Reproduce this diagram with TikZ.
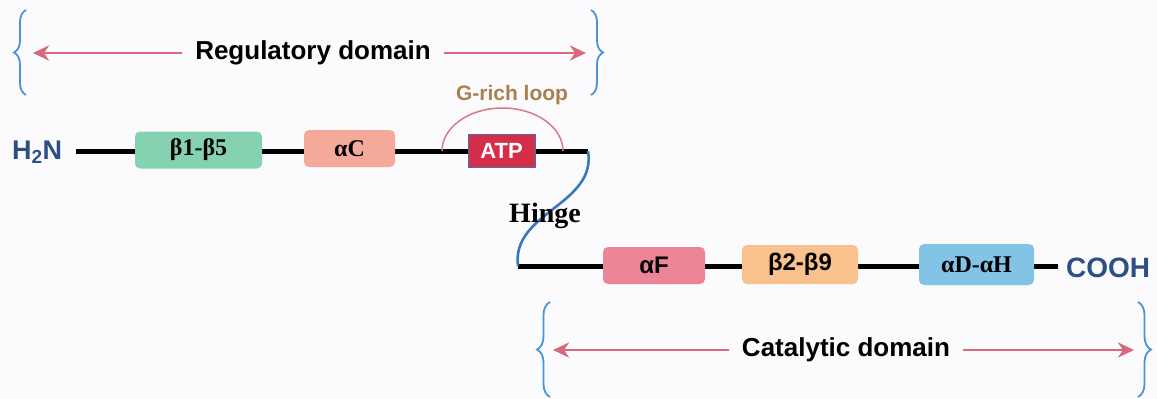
\documentclass[tikz,border=0pt]{standalone}
\usepackage{fontspec}
\setmainfont{Liberation Serif}
\setsansfont{Liberation Sans}
\usetikzlibrary{arrows.meta,decorations.pathreplacing}
\definecolor{paper}{HTML}{FBFBFD}
\definecolor{termblue}{HTML}{2E4F86}
\definecolor{rose}{HTML}{D9687C}
\definecolor{braceblue}{HTML}{4D94D6}
\definecolor{gold}{HTML}{A98050}
\definecolor{looppink}{HTML}{D9798A}
\definecolor{mint}{HTML}{85D2B1}
\definecolor{salmon}{HTML}{F5A99B}
\definecolor{atpred}{HTML}{D42E48}
\definecolor{atpedge}{HTML}{4F6AAE}
\definecolor{pinkf}{HTML}{EC8597}
\definecolor{peach}{HTML}{F8C18D}
\definecolor{sky}{HTML}{82C3E6}
\definecolor{hingeblue}{HTML}{3A78BE}

\tikzset{
  dombox/.style={rounded corners=5pt,fill=#1,inner sep=0pt,text=black},
  chain/.style={line width=5pt,black},
  domarrow/.style={line width=2.8pt,rose,-{Stealth[length=16pt,width=15pt,inset=5pt]}},
  bracket/.style={line width=1.8pt,braceblue,decorate,decoration={brace,amplitude=#1}},
  txt/.style={font=\sffamily\bfseries\fontsize{#1}{#1}\selectfont},
}

\begin{document}
\begin{tikzpicture}[x=1pt,y=-1pt,font=\sffamily\bfseries]
  \fill[paper] (0,0) rectangle (1157,399);
  \useasboundingbox (0,0) rectangle (1157,399);

  % ends of the two chain segments
  \coordinate (topend) at (588,151);
  \coordinate (botstart) at (518,266);
  \coordinate (loopL) at (442,151);

  % termini
  \node[txt=27,text=termblue,anchor=base west,inner xsep=0pt] (h2n) at (12,159) {H\textsubscript{2}N};
  \node[txt=28,text=termblue,anchor=base west,inner xsep=8pt] (cooh) at (1058,277) {COOH};

  % backbone + hinge
  \draw[chain] ([xshift=14pt]h2n.east |- topend) -- (topend);
  \draw[chain] (botstart) -- (cooh.west |- botstart);
  \draw[hingeblue,line width=2.6pt] (topend) .. controls (597,205) and (511,212) .. (botstart);
  \node[font=\rmfamily\bfseries\fontsize{28}{28}\selectfont] (hinge) at (545,216) {Hinge};

  % domains: name / x / y / width / height / colour / family / label
  \foreach \n/\x/\y/\w/\h/\c/\f/\t in {
     b15/198.5/150/127/37/mint/\rmfamily/β1-β5,
     ac/349.5/148.5/91/37/salmon/\rmfamily/αC,
     af/654/265.5/102/37/pinkf/\sffamily/αF,
     b29/800/264.5/116/39/peach/\sffamily/β2-β9,
     adh/976.5/264.5/115/41/sky/\rmfamily/αD-αH}{
       \node[dombox=\c,minimum width=\w,minimum height=\h,font=\f\bfseries\fontsize{24}{24}\selectfont] (\n) at (\x,\y) {\t};
  }

  % ATP pocket and glycine-rich loop
  \draw[looppink,line width=1.5pt] (loopL) arc[start angle=180,end angle=0,x radius=60.5pt,y radius=43pt] coordinate (loopR);
  \node[txt=22,fill=atpred,draw=atpedge,line width=1pt,text=white,minimum width=67,minimum height=33,inner sep=0pt] (atp) at (501.5,150.5) {ATP};
  \node[txt=21,text=gold] (gloop) at (512,95) {G-rich loop};

  % domain spans
  \node[txt=26,inner xsep=13pt] (reg) at (313,53) {Regulatory domain};
  \coordinate (regL) at (33,53);
  \coordinate (regR) at (586,53);
  \draw[domarrow] (reg.west) -- (regL);
  \draw[domarrow] (reg.east) -- (regR);
  \draw[bracket=12pt] (26,95) -- (26,10);
  \draw[bracket=12pt] (591,10) -- (591,95);

  \node[txt=26,inner xsep=13pt] (cat) at (846,350) {Catalytic domain};
  \coordinate (catL) at (553,350);
  \coordinate (catR) at (1134,350);
  \draw[domarrow] (cat.west) -- (catL);
  \draw[domarrow] (cat.east) -- (catR);
  \draw[bracket=13pt] (550,397) -- (550,302);
  \draw[bracket=13pt] (1138,302) -- (1138,397);
\end{tikzpicture}
\end{document}
